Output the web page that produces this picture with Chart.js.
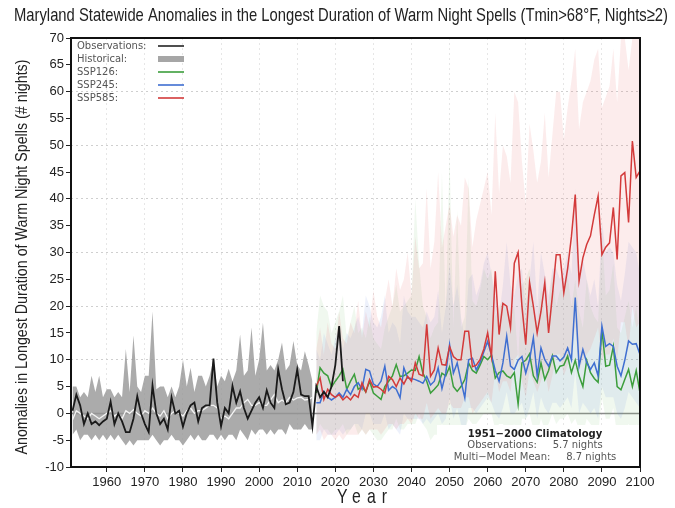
<!DOCTYPE html>
<html><head><meta charset="utf-8">
<script src="https://cdn.jsdelivr.net/npm/chart.js@4.4.1/dist/chart.umd.min.js"></script>
<style>html,body{margin:0;padding:0;background:#fff;}</style>
</head><body>
<canvas id="c" width="675" height="508"></canvas>
<script>
// ---------- text ----------
const titleText = "Maryland Statewide Anomalies in the Longest Duration of Warm Night Spells (Tmin>68°F, Nights≥2)";
const yTitleText = "Anomalies in Longest Duration of Warm Night Spells (# nights)";
const xTitleText = "Year";
const legendLabels = ["Observations:", "Historical:", "SSP126:", "SSP245:", "SSP585:"];
const legendColors = ["#222222", "#a6a6a6", "#3c9e3c", "#3f6fd1", "#d33a3a"];
const climTitle = "1951\u22122000 Climatology";
const climLines = ["Observations:     5.7 nights", "Multi\u2212Model Mean:     8.7 nights"];

// ---------- axes ----------
const xTicks = [1960, 1970, 1980, 1990, 2000, 2010, 2020, 2030, 2040, 2050, 2060, 2070, 2080, 2090, 2100];
const yTicks = [-10, -5, 0, 5, 10, 15, 20, 25, 30, 35, 40, 45, 50, 55, 60, 65, 70];

// ---------- data ----------
const obsStart = 1951;   // observations 1951-2022
const obsValues = [
  0.5, 3.5, 1.5, -2, 0, -2, -1.5, -2.2, -1.5, -1,
  2.2, -2, 0, -1.5, -3.5, -3.5, -1, 3.2, 0, -2,
  -3.5, 5.2, 0, -2, -1, -3, 3, 0, 0.5, -2.5,
  0, 1.5, 2, -1.5, 1, 1.5, 1.5, 10.2, 2, -2.4,
  1, 0, 5.1, 2, 4.1, 1, -1, 0.5, 2, 3,
  1, 4.3, 2, 1, 8.2, 4.5, 1.7, 2, 4, 8.2,
  3.5, 3.2, 3.2, -2.4, 5, 3, 4, 3, 5, 9,
  16.3, 6
];

const histStart = 1951;  // historical 1951-2014
const histMean = [
  -1.2, 0.5, 0, -0.5, -1, 0, -0.5, -1, -0.5, 0,
  0.5, -0.5, 0, -1, 0.5, 0, 0.7, 0, -0.5, 0.5,
  0, 1, 0, -0.5, 0.5, -1, 0, 0.5, 0, -0.5,
  0.5, 1, 0, 0.5, 0.5, 1, 1.5, 1.5, 1, -1,
  -0.5, -1, 0, 1, 1, 2, 2.6, 1.5, 1.5, 2,
  1.5, 1.5, 2.5, 3.5, 2, 2.5, 2, 3, 2.5, 2.9,
  3, 2.5, 2.6, 3
];
const histHigh = [
  5, 5, 3, 4, 3, 7, 4, 7, 3, 4.5,
  4.5, 3, 4, 3, 12, 4, 14.5, 5, 4, 7,
  7, 19, 4.5, 5, 5, 3, 5, 3, 5, 10,
  5, 8.5, 4, 7, 7, 5, 7, 10, 5, 7,
  6, 8.3, 6, 8, 14.7, 7, 8, 16, 7, 10,
  16.9, 8, 9, 8, 10, 13.2, 8, 9, 13.5, 9,
  8, 11.6, 9, 6
];
const histLow = [
  -4, -3, -5, -4, -4, -5, -4, -5, -4, -5,
  -4, -5, -4, -5, -6, -5, -6, -5, -5, -5,
  -5, -4, -5, -6, -5, -5, -4, -5, -5, -6,
  -5, -4, -5, -4, -5, -5, -4, -4, -5, -4,
  -5, -4, -4, -5, -3, -4, -5, -3, -4, -3,
  -3, -4, -3, -4, -3, -3, -4, -2, -3, -3,
  -3, -2, -3, -3
];

const futStart = 2015;   // scenarios 2015-2100
const ssp126 = [
  3.8, 8.5, 7.5, 7.0, 4.9, 6.0, 7.0, 8.2, 4.5, 6.0,
  7.3, 4.5, 5.0, 4.0, 6.0, 3.8, 3.2, 2.6, 5.0, 6.0,
  7.0, 9.1, 6.9, 7.0, 7.5, 8.1, 8.0, 10.6, 7.5, 6.0,
  3.8, 4.5, 5.3, 7.5, 7.0, 8.7, 5.0, 4.1, 5.0, 6.3,
  9.4, 8.0, 7.5, 9.0, 10.6, 10.0, 10.9, 6.6, 7.6, 7.9,
  7.0, 6.6, 7.6, 1.7, 9.4, 9.9, 11.1, 7.0, 5.8, 9.4,
  6.3, 8.0, 10.7, 7.6, 8.8, 9.0, 10.7, 7.6, 9.9, 7.0,
  5.0, 9.9, 7.6, 6.5, 5.8, 15.6, 8.8, 9.0, 12.5, 5.0,
  4.4, 6.3, 8.2, 5.0, 8.0, 3.8
];
const ssp245 = [
  2.0, 2.0, 4.1, 3.0, 2.5, 3.0, 3.8, 3.0, 4.5, 3.5,
  5.0, 5.7, 4.5, 8.2, 7.9, 5.5, 5.0, 6.0, 8.8, 4.3,
  5.0, 4.5, 2.9, 8.5, 6.6, 6.5, 6.3, 6.0, 5.6, 6.9,
  5.3, 6.0, 8.5, 4.6, 7.5, 12.8, 7.5, 9.4, 6.0, 2.9,
  10.0, 10.3, 8.1, 9.5, 11.5, 13.4, 10.9, 8.0, 6.0, 9.4,
  14.4, 8.8, 8.2, 9.9, 10.6, 7.5, 10.0, 14.1, 7.0, 12.2,
  10.0, 8.8, 10.7, 10.7, 9.8, 10.5, 12.2, 10.0, 21.6, 8.8,
  11.9, 9.5, 8.2, 9.4, 7.0, 16.3, 12.5, 13.0, 12.5, 8.8,
  7.0, 9.9, 13.5, 12.9, 13.0, 11.0
];
const ssp585 = [
  5.1, 6.6, 2.6, 4.5, 3.5, 3.0, 3.5, 2.5, 3.2, 2.5,
  3.5, 3.0, 5.7, 4.0, 6.3, 4.9, 5.0, 4.5, 3.8, 6.9,
  6.3, 5.0, 6.6, 5.5, 6.9, 6.0, 9.4, 7.3, 7.0, 16.6,
  6.9, 8.1, 12.2, 9.1, 9.0, 12.5, 10.6, 10.0, 10.0, 15.3,
  15.3, 8.7, 9.0, 10.0, 12.0, 15.0, 10.6, 26.5, 14.7, 20.5,
  20.0, 16.0, 28.0, 30.0, 20.0, 12.8, 24.4, 20.0, 15.0, 19.0,
  24.4, 15.0, 22.0, 29.6, 29.6, 22.5, 27.0, 33.0, 40.8, 24.7,
  29.0, 31.5, 33.1, 37.0, 40.5, 29.6, 31.0, 31.8, 38.4, 28.7,
  44.3, 44.9, 35.6, 50.8, 44.0, 45.2
];
const ssp126High = [
  15, 22, 20, 19, 15, 17, 19, 22, 14, 17,
  20, 15, 16, 14, 18, 14, 13, 12, 16, 18,
  20, 24, 19, 20, 21, 22, 40, 28, 20, 18,
  14, 16, 17, 45, 19, 48, 16, 38, 16, 18,
  44, 21, 20, 23, 27, 25, 27, 18, 20, 21,
  19, 18, 20, 10, 24, 25, 27, 19, 17, 24,
  18, 21, 26, 20, 23, 23, 26, 20, 25, 19,
  16, 25, 20, 18, 17, 34, 22, 23, 28, 16,
  15, 18, 21, 16, 20, 14
];
const ssp126Low = [
  -4, -2, -3, -3, -4, -3, -3, -2, -4, -3,
  -2, -4, -3, -4, -3, -4, -5, -5, -4, -3,
  -3, -1, -3, -3, -2, -2, -2, 0, -2, -3,
  -5, -4, -4, -2, -3, -2, -4, -5, -4, -3,
  -1, -2, -2, -1, 0, 0, 0, -3, -2, -2,
  -3, -3, -2, -7, -1, -1, 0, -3, -4, -1,
  -3, -2, 0, -2, -1, -1, 0, -2, -1, -3,
  -4, -1, -2, -3, -4, 3, -1, -1, 1, -4,
  -5, -3, -2, -4, -2, -5
];
const ssp245High = [
  12, 10, 15, 13, 11, 14, 16, 12, 15, 14,
  16, 18, 15, 22, 20, 17, 16, 18, 22, 15,
  17, 16, 13, 22, 19, 18, 18, 17, 16, 19,
  17, 18, 23, 15, 20, 28, 20, 24, 18, 14,
  25, 26, 22, 24, 28, 30, 26, 22, 18, 24,
  32, 24, 22, 26, 27, 20, 25, 32, 20, 30,
  26, 22, 27, 27, 25, 27, 30, 26, 42, 24,
  29, 25, 22, 25, 20, 36, 30, 31, 30, 24,
  21, 26, 32, 31, 30, 26
];
const ssp245Low = [
  -5, -5, -3, -4, -4, -4, -3, -4, -3, -3,
  -2, -2, -3, 0, 0, -2, -2, -2, 0, -3,
  -2, -3, -4, 0, -1, -1, -1, -1, -2, -1,
  -2, -1, 0, -2, -1, 3, -1, 1, -2, -4,
  1, 1, 0, 1, 2, 3, 2, 0, -1, 1,
  4, 0, 0, 1, 2, -1, 1, 4, -1, 3,
  1, 0, 2, 2, 1, 2, 3, 1, 8, 0,
  2, 1, 0, 1, -1, 5, 3, 3, 3, 0,
  -1, 1, 4, 3, 2, 1
];
const ssp585High = [
  12, 16, 11, 17, 13, 12, 19, 14, 13, 17,
  15, 21, 14, 19, 16, 23, 18, 16, 21, 25,
  20, 27, 23, 25, 30, 22, 33, 27, 28, 42,
  27, 32, 45, 31, 35, 39, 33, 37, 35, 44,
  42, 31, 36, 39, 42, 45, 37, 56, 41, 50,
  48, 43, 60, 58, 47, 39, 54, 49, 43, 47,
  56, 44, 52, 60, 60, 51, 57, 62, 68, 53,
  58, 60, 62, 66, 68, 57, 59, 61, 68, 58,
  70, 70, 64, 70, 70, 70
];
const ssp585Low = [
  -4, -3, -5, -4, -4, -5, -4, -5, -4, -4,
  -4, -4, -3, -4, -3, -3, -3, -4, -3, -2,
  -2, -3, -2, -2, -1, -2, 0, -1, -1, 2,
  -1, 0, 1, 0, 0, 2, 1, 1, 1, 3,
  3, 0, 1, 2, 3, 4, 2, 8, 4, 6,
  6, 4, 10, 11, 6, 3, 8, 6, 4, 6,
  8, 4, 7, 11, 11, 7, 9, 12, 16, 8,
  10, 11, 12, 14, 16, 10, 11, 11, 14, 10,
  17, 17, 12, 20, 16, 17
];

// ---------- helpers ----------
const pts = (start, arr) => arr.map((v, i) => ({ x: start + i, y: v }));
const baseFam = "'Liberation Sans', Arial, sans-serif";

const lineDs = (label, data, color, width, order) => ({
  label, data, borderColor: color, borderWidth: width, pointRadius: 0,
  tension: 0, fill: false, order
});
const bandPair = (label, low, high, color, order) => ([
  { label: label + ' low', data: low, borderWidth: 0, borderColor: 'rgba(0,0,0,0)', pointRadius: 0, fill: false, order },
  { label: label + ' high', data: high, borderWidth: 0, borderColor: 'rgba(0,0,0,0)', pointRadius: 0, fill: '-1', backgroundColor: color, order }
]);

const datasets = [
  lineDs('Observations', pts(obsStart, obsValues), '#1a1a1a', 1.8, 0),
  lineDs('Historical mean', pts(histStart, histMean), '#f4f4f4', 1.3, 1),
  lineDs('SSP585', pts(futStart, ssp585), '#d33a3a', 1.5, 2),
  lineDs('SSP245', pts(futStart, ssp245), '#3f6fd1', 1.5, 3),
  lineDs('SSP126', pts(futStart, ssp126), '#3c9e3c', 1.5, 4),
  ...bandPair('Historical', pts(histStart, histLow), pts(histStart, histHigh), 'rgba(150,150,150,0.8)', 10),
  ...bandPair('SSP585', pts(futStart, ssp585Low), pts(futStart, ssp585High), 'rgba(235,110,110,0.13)', 11),
  ...bandPair('SSP245', pts(futStart, ssp245Low), pts(futStart, ssp245High), 'rgba(110,140,225,0.12)', 12),
  ...bandPair('SSP126', pts(futStart, ssp126Low), pts(futStart, ssp126High), 'rgba(130,195,120,0.12)', 13)
];

// draw text condensed horizontally to a target width
function condensedText(ctx, text, cx, cy, size, target, rotate, spacing) {
  ctx.save();
  ctx.font = size + 'px ' + baseFam;
  ctx.letterSpacing = (spacing || 0) + 'px';
  const w = ctx.measureText(text).width - (spacing || 0);
  ctx.translate(cx, cy);
  if (rotate) ctx.rotate(-Math.PI / 2);
  ctx.scale(target / w, 1);
  ctx.textAlign = 'left'; ctx.textBaseline = 'middle';
  ctx.fillStyle = '#222';
  ctx.fillText(text, -w / 2, 0);
  ctx.restore();
}

const decor = {
  id: 'decor',
  beforeDatasetsDraw(chart) {
    const { ctx, chartArea: a, scales } = chart;
    const y0 = scales.y.getPixelForValue(0);
    ctx.save();
    ctx.strokeStyle = '#8a8a8a'; ctx.lineWidth = 1.5;
    ctx.beginPath(); ctx.moveTo(a.left, y0); ctx.lineTo(a.right, y0); ctx.stroke();
    ctx.restore();
  },
  afterDatasetsDraw(chart) {
    const { ctx, chartArea: a } = chart;
    ctx.save();
    // climatology box
    ctx.fillStyle = '#ffffff';
    ctx.fillRect(a.right - 203, a.bottom - 42, 202, 41);
    ctx.textAlign = 'center'; ctx.textBaseline = 'middle';
    const cx = a.right - 105;
    ctx.font = "bold 10px 'DejaVu Sans', sans-serif"; ctx.fillStyle = '#222';
    ctx.fillText(climTitle, cx, a.bottom - 33);
    ctx.font = "10px 'DejaVu Sans', sans-serif"; ctx.fillStyle = '#555';
    ctx.fillText(climLines[0], cx, a.bottom - 21.5);
    ctx.fillText(climLines[1], cx, a.bottom - 10);
    // legend
    ctx.textAlign = 'left';
    legendLabels.forEach((lab, i) => {
      const y = a.top + 8 + i * 13;
      ctx.fillStyle = '#555';
      ctx.fillText(lab, a.left + 6, y);
      ctx.strokeStyle = legendColors[i];
      ctx.lineWidth = i === 1 ? 6 : 1.6;
      ctx.beginPath(); ctx.moveTo(a.left + 87, y); ctx.lineTo(a.left + 113, y); ctx.stroke();
    });
    // frame
    ctx.strokeStyle = '#111'; ctx.lineWidth = 2;
    ctx.strokeRect(a.left, a.top, a.right - a.left, a.bottom - a.top);
    ctx.restore();
    // titles
    condensedText(ctx, titleText, 341, 16, 19, 654, false, 0);
    condensedText(ctx, yTitleText, 22, 257, 16.5, 395, true, 0);
    condensedText(ctx, xTitleText, 362, 497, 21, 50, false, 8);
  }
};

new Chart(document.getElementById('c'), {
  type: 'line',
  data: { datasets },
  options: {
    responsive: false, animation: false, devicePixelRatio: 1, events: [],
    layout: { padding: { left: 0, right: 35, top: 38, bottom: 0 } },
    plugins: {
      legend: { display: false }, tooltip: { enabled: false }, title: { display: false }
    },
    scales: {
      x: {
        type: 'linear', min: 1950.6, max: 2100,
        afterBuildTicks: s => { s.ticks = xTicks.map(v => ({ value: v })); },
        afterFit: s => { s.height = 41; },
        ticks: { callback: v => String(v), color: '#222', font: { family: baseFam, size: 13 }, maxRotation: 0, padding: 3 },
        grid: {
          color: c => (c.tick && c.tick.value < 2100) ? '#e6e6e6' : 'rgba(0,0,0,0)',
          tickColor: '#222', tickLength: 5, lineWidth: 1
        },
        border: { display: false, dash: [2, 3] },
        title: { display: false }
      },
      y: {
        min: -10, max: 70,
        afterBuildTicks: s => { s.ticks = yTicks.map(v => ({ value: v })); },
        afterFit: s => { s.width = 71; },
        ticks: { color: '#222', font: { family: baseFam, size: 13 }, padding: 2 },
        grid: {
          color: c => { const v = c.tick ? c.tick.value : 1; return (v % 10 === 0 && v !== 0 && v !== -10 && v !== 70) ? '#cfcfcf' : 'rgba(0,0,0,0)'; },
          tickColor: '#222', tickLength: 5, lineWidth: 1
        },
        border: { display: false, dash: [2, 3] },
        title: { display: false }
      }
    }
  },
  plugins: [decor]
});
</script>
</body></html>
